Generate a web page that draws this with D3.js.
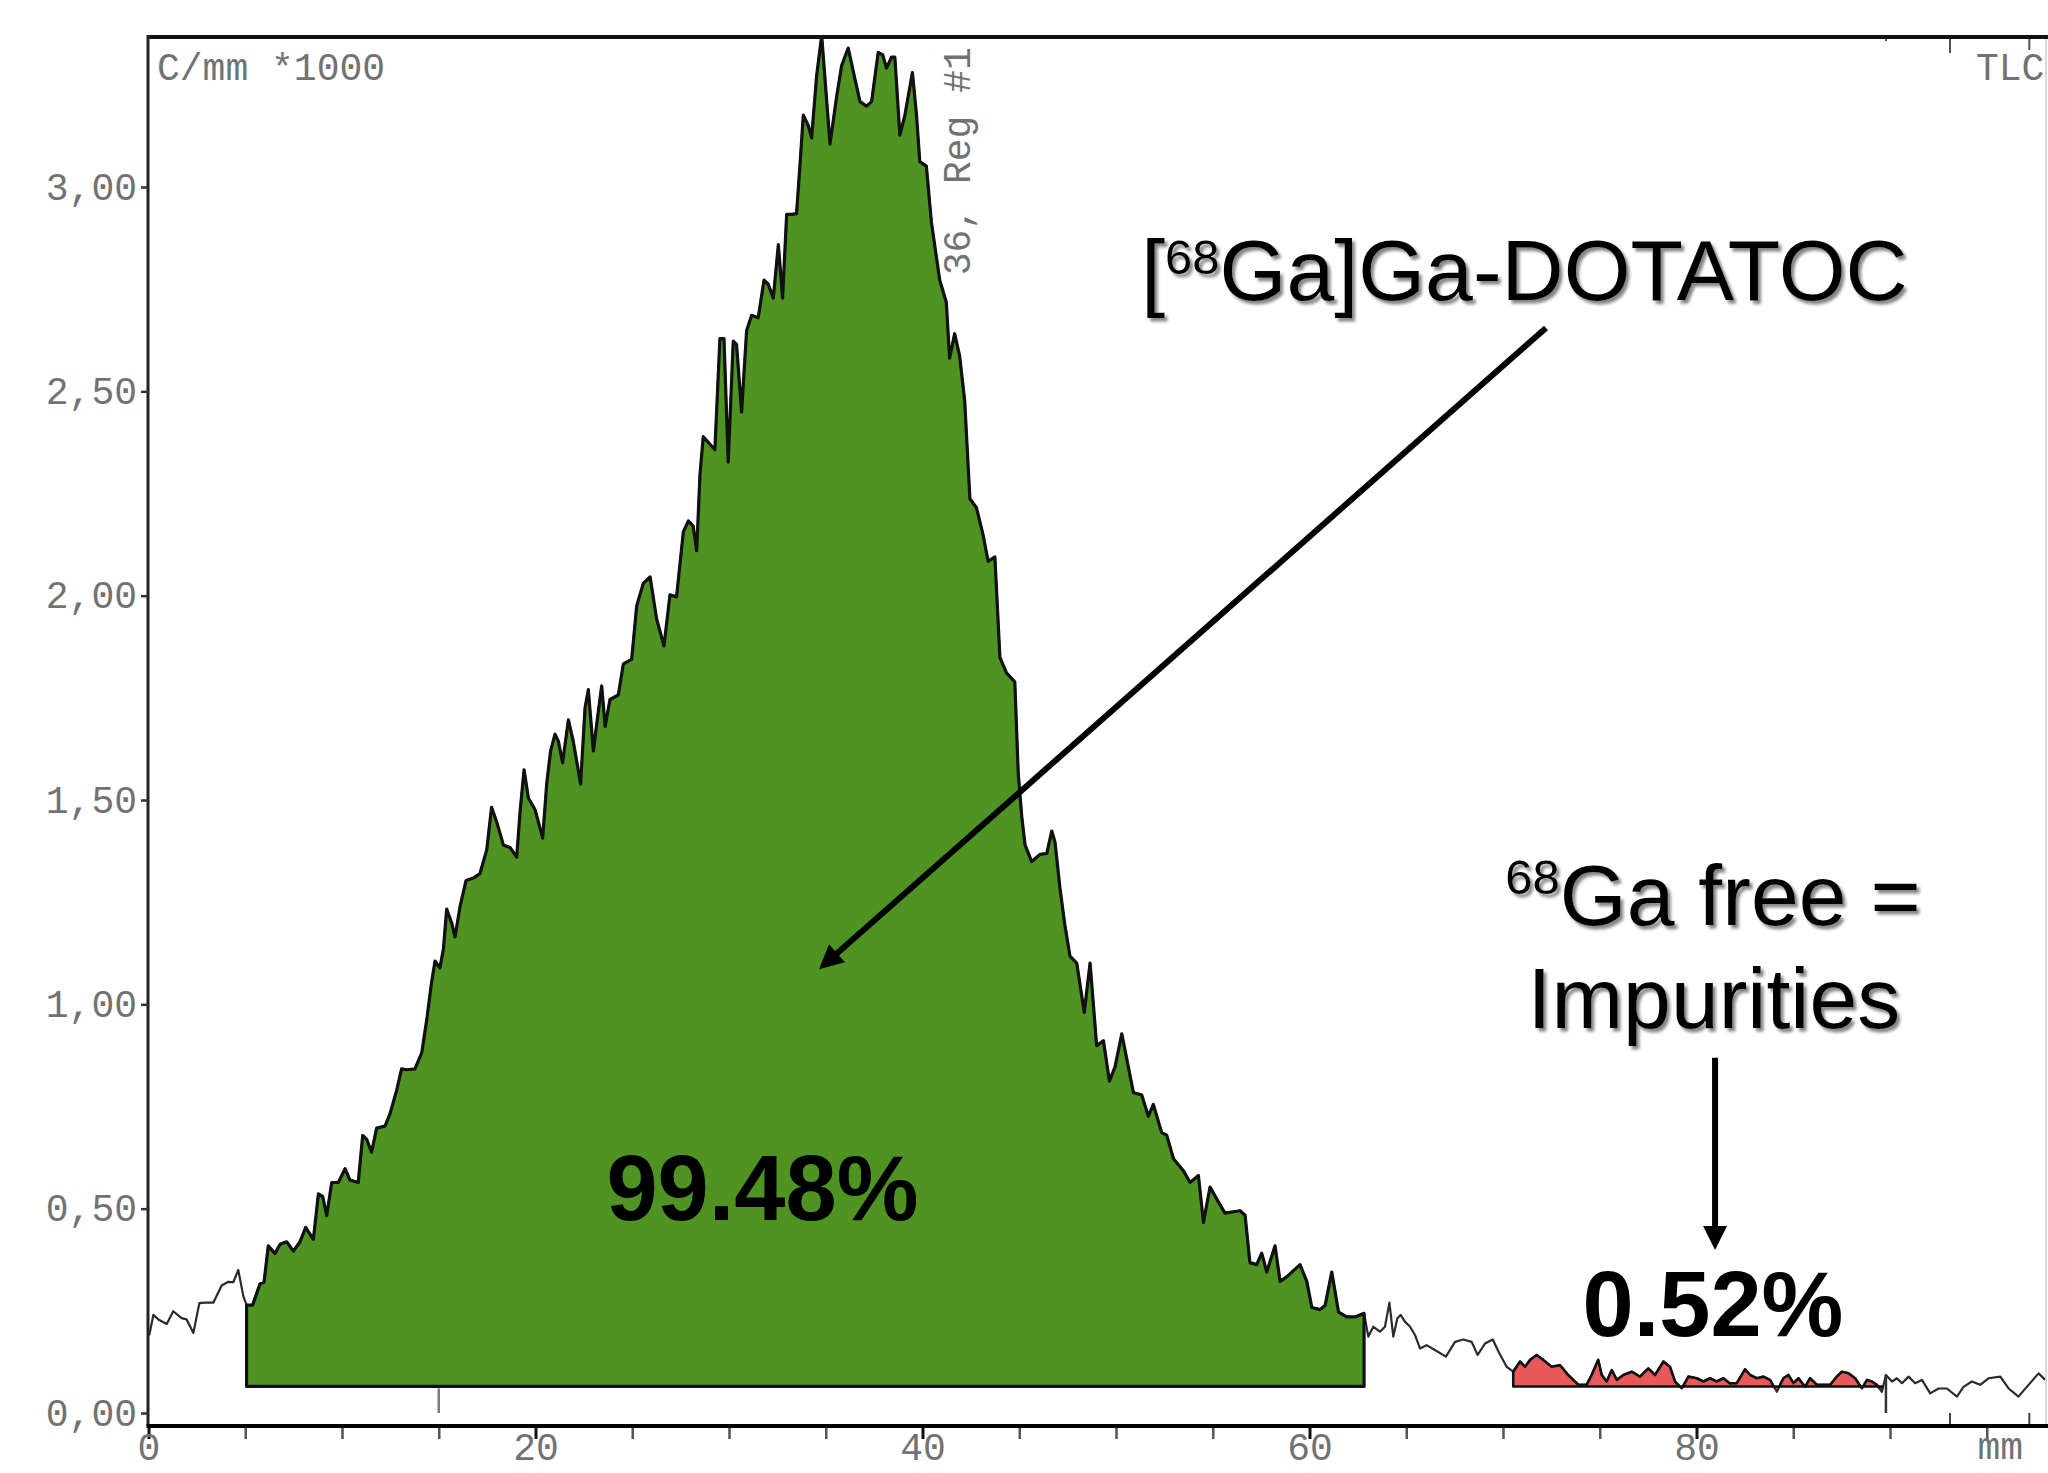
<!DOCTYPE html>
<html>
<head>
<meta charset="utf-8">
<script src="https://cdn.jsdelivr.net/npm/d3@7"></script>
<style>
  body { margin: 0; background: #fff; }
  svg { display: block; }
  .mono { font-family: "Liberation Mono", "DejaVu Sans Mono", monospace; font-size: 38px; fill: #727272; }
  .note { font-family: "Liberation Sans", Arial, sans-serif; fill: #000; }
</style>
</head>
<body>
<div id="chart"></div>
<script>
// TLC radio scan, position in mm, counts in C/mm *1000
const profileMm = [
  0.04,0.25,0.51,0.94,1.28,1.71,1.97,2.32,2.63,2.92,3.35,3.78,4.13,4.38,4.64,4.9,5.07,5.38,5.76,5.97,
  6.19,6.54,6.8,7.14,7.49,7.83,8.12,8.52,8.78,9.0,9.21,9.47,9.81,10.16,10.41,10.84,11.07,11.27,11.53,11.79,
  12.22,12.48,12.82,13.08,13.34,13.77,14.12,14.38,14.63,14.81,15.06,15.24,15.41,15.67,15.84,16.1,16.41,16.79,17.13,17.48,
  17.73,17.99,18.34,18.68,19.03,19.2,19.41,19.63,19.98,20.37,20.58,20.78,21.01,21.18,21.4,21.7,21.95,22.33,22.56,22.73,
  22.99,23.25,23.42,23.6,23.85,24.28,24.54,24.97,25.23,25.57,25.92,26.26,26.64,26.95,27.29,27.64,27.9,28.15,28.33,28.5,
  28.67,29.27,29.53,29.74,29.96,30.22,30.39,30.65,30.91,31.17,31.51,31.81,32.03,32.29,32.55,32.77,32.98,33.24,33.49,33.67,
  33.84,34.1,34.27,34.53,34.79,35.22,35.56,35.82,36.16,36.51,36.77,37.11,37.37,37.71,37.94,38.14,38.4,38.57,38.83,39.09,
  39.48,39.69,39.86,40.2,40.46,40.89,41.23,41.4,41.66,41.92,42.18,42.45,42.79,43.13,43.39,43.74,44.0,44.34,44.77,44.95,
  45.13,45.3,45.64,46.07,46.42,46.68,46.85,47.1,47.36,47.62,47.97,48.36,48.66,49.0,49.35,49.66,49.95,50.3,50.9,51.33,
  51.67,51.93,52.36,52.62,52.97,53.48,53.83,54.26,54.52,54.86,55.2,55.63,56.41,56.67,56.92,57.27,57.53,57.79,58.22,58.48,
  58.82,59.51,59.86,60.12,60.55,60.81,61.15,61.5,61.93,62.36,62.82,63.04,63.3,63.64,63.9,64.13,64.33,64.54,64.71,64.94,
  65.2,65.45,65.71,66.05,66.48,67.05,67.52,67.95,68.38,68.69,69.07,69.47,69.81,70.19,70.53,70.88,71.14,71.4,71.74,72.08,
  72.51,72.94,73.37,73.89,74.32,74.58,74.92,75.1,75.36,75.62,75.88,76.22,76.65,77.08,77.51,77.86,78.29,78.63,78.89,79.24,
  79.58,80.01,80.36,80.7,81.04,81.39,81.73,82.08,82.51,82.77,83.12,83.46,83.8,84.15,84.49,84.75,85.01,85.27,85.61,85.87,
  86.22,86.91,87.25,87.51,87.86,88.2,88.55,88.81,89.06,89.32,89.58,89.79,90.1,90.36,90.62,90.96,91.3,91.65,92.08,92.51,
  92.94,93.46,93.8,94.23,94.66,95.09,95.7,96.13,96.64,97.07,97.68,98.02
];
const profileCounts = [
  0.19,0.24,0.229,0.218,0.249,0.232,0.229,0.196,0.269,0.27,0.27,0.312,0.321,0.32,0.35,0.286,0.264,0.264,0.316,0.32,
  0.409,0.39,0.413,0.419,0.396,0.419,0.454,0.425,0.536,0.53,0.483,0.564,0.564,0.598,0.57,0.564,0.679,0.67,0.638,0.697,
  0.702,0.732,0.789,0.842,0.84,0.842,0.881,0.962,1.054,1.106,1.089,1.135,1.233,1.199,1.165,1.239,1.303,1.309,1.32,1.378,
  1.482,1.447,1.39,1.384,1.36,1.47,1.574,1.505,1.476,1.407,1.54,1.62,1.661,1.644,1.591,1.696,1.644,1.539,1.725,1.77,
  1.62,1.718,1.779,1.68,1.746,1.757,1.833,1.844,1.975,2.03,2.046,1.943,1.877,2.002,1.997,2.156,2.183,2.17,2.11,2.296,
  2.389,2.357,2.629,2.629,2.327,2.623,2.615,2.449,2.648,2.686,2.68,2.772,2.762,2.728,2.859,2.728,2.933,2.933,2.935,3.055,
  3.176,3.15,3.12,3.273,3.37,3.105,3.22,3.297,3.34,3.264,3.209,3.198,3.209,3.329,3.324,3.291,3.318,3.318,3.127,3.176,
  3.28,3.176,3.062,3.051,2.914,2.772,2.718,2.581,2.641,2.586,2.477,2.237,2.215,2.149,2.084,2.095,1.849,1.811,1.789,1.563,
  1.459,1.39,1.349,1.367,1.369,1.424,1.396,1.286,1.193,1.118,1.101,0.98,1.101,0.899,0.911,0.812,0.847,0.928,0.784,0.778,
  0.726,0.755,0.686,0.68,0.622,0.593,0.564,0.581,0.466,0.553,0.524,0.489,0.495,0.484,0.368,0.363,0.391,0.345,0.409,0.322,
  0.333,0.363,0.322,0.258,0.253,0.264,0.345,0.247,0.235,0.235,0.244,0.187,0.211,0.199,0.211,0.27,0.187,0.232,0.24,0.223,
  0.211,0.191,0.158,0.166,0.154,0.138,0.174,0.18,0.174,0.142,0.17,0.18,0.146,0.113,0.101,0.126,0.113,0.13,0.142,0.13,
  0.113,0.117,0.093,0.069,0.069,0.093,0.13,0.093,0.077,0.105,0.081,0.093,0.101,0.089,0.109,0.093,0.126,0.113,0.077,0.06,
  0.089,0.085,0.077,0.085,0.077,0.085,0.072,0.073,0.107,0.093,0.085,0.089,0.081,0.052,0.085,0.093,0.073,0.085,0.064,0.085,
  0.069,0.069,0.089,0.101,0.097,0.085,0.06,0.081,0.077,0.069,0.052,0.093,0.077,0.085,0.073,0.089,0.073,0.081,0.048,0.06,
  0.06,0.04,0.064,0.077,0.069,0.085,0.089,0.06,0.04,0.064,0.097,0.081
];

const yTicks = [0, 0.5, 1, 1.5, 2, 2.5, 3];
const xTicks = [0, 5, 10, 15, 20, 25, 30, 35, 40, 45, 50, 55, 60, 65, 70, 75, 80, 85, 90, 95];
const xLabels = [0, 20, 40, 60, 80];

// integration regions
const regionNames = ['[68Ga]Ga-DOTATOC', '68Ga free'];
const regionFrom = [5.0, 70.5];
const regionTo = [62.9, 89.6];
const regionColors = ['#4f9422', '#e85959'];
const regionBase = 0.065;

// software markers (mm)
const baseMarks = [15];
const edgeMarks = [89.79];
const sideMarks = [93.1, 97.2];

const width = 2048, height = 1473;
const frame = { left: 148, top: 37, right: 2046, bottom: 1426 };

const x = d3.scaleLinear().domain([0, 100]).range([148.5, 2083.5]);
const y = d3.scaleLinear().domain([0, 3]).range([1413, 187]);

const profile = profileMm.map((m, i) => ({ mm: m, c: profileCounts[i] }));

const svg = d3.select('#chart').append('svg')
    .attr('width', width)
    .attr('height', height);

const defs = svg.append('defs');

defs.append('clipPath').attr('id', 'plot-clip')
  .append('rect')
    .attr('x', frame.left).attr('y', frame.top)
    .attr('width', frame.right - frame.left).attr('height', frame.bottom - frame.top);

defs.append('clipPath').attr('id', 'region-clip')
  .append('rect')
    .attr('x', frame.left).attr('y', frame.top)
    .attr('width', frame.right - frame.left).attr('height', y(regionBase) + 2 - frame.top);

defs.append('filter').attr('id', 'shadow')
    .attr('x', '-5%').attr('y', '-10%').attr('width', '115%').attr('height', '130%')
  .append('feDropShadow')
    .attr('dx', 3).attr('dy', 3.5).attr('stdDeviation', 1.4)
    .attr('flood-color', '#6f6f6f').attr('flood-opacity', 0.85);

const plot = svg.append('g').attr('clip-path', 'url(#plot-clip)');

// whole scan line
const line = d3.line().x(d => x(d.mm)).y(d => y(d.c));

plot.append('path')
    .datum(profile)
    .attr('fill', 'none')
    .attr('stroke', '#2b2b2b')
    .attr('stroke-width', 2.2)
    .attr('stroke-linejoin', 'round')
    .attr('d', line);

// region areas
const area = d3.area()
    .x(d => x(d.mm))
    .y0(y(regionBase))
    .y1(d => y(d.c));

const regionGroup = plot.append('g').attr('clip-path', 'url(#region-clip)');

regionGroup.selectAll('path')
  .data(regionNames)
  .join('path')
    .attr('fill', (d, i) => regionColors[i])
    .attr('stroke', '#111')
    .attr('stroke-width', (d, i) => i === 0 ? 3.2 : 2.6)
    .attr('stroke-linejoin', 'round')
    .attr('d', (d, i) => area(profile.filter(p => p.mm >= regionFrom[i] && p.mm <= regionTo[i])) + 'Z');

// marker lines from software
plot.selectAll('.base-mark')
  .data(baseMarks)
  .join('line')
    .attr('class', 'base-mark')
    .attr('x1', d => x(d)).attr('x2', d => x(d))
    .attr('y1', y(regionBase) + 2).attr('y2', y(0))
    .attr('stroke', '#7d7d7d').attr('stroke-width', 2.5);

plot.selectAll('.edge-mark')
  .data(edgeMarks)
  .join('line')
    .attr('class', 'edge-mark')
    .attr('x1', d => x(d)).attr('x2', d => x(d))
    .attr('y1', d => y(profileCounts[profileMm.indexOf(d)])).attr('y2', y(0))
    .attr('stroke', '#333').attr('stroke-width', 2.5);

plot.selectAll('.side-mark')
  .data(sideMarks)
  .join('line')
    .attr('class', 'side-mark')
    .attr('x1', d => x(d)).attr('x2', d => x(d))
    .attr('y1', y(0)).attr('y2', frame.bottom - 2)
    .attr('stroke', '#444').attr('stroke-width', 2);

const topMarks = edgeMarks.concat(sideMarks);
const topMarkLen = [4, 16, 13];
svg.selectAll('.top-mark')
  .data(topMarks)
  .join('line')
    .attr('class', 'top-mark')
    .attr('x1', d => x(d)).attr('x2', d => x(d))
    .attr('y1', frame.top).attr('y2', (d, i) => frame.top + topMarkLen[i])
    .attr('stroke', '#555').attr('stroke-width', 2);

// frame
svg.append('line')
    .attr('x1', frame.right).attr('x2', frame.right)
    .attr('y1', frame.top).attr('y2', frame.bottom)
    .attr('stroke', '#cfcfcf').attr('stroke-width', 1.5);
svg.append('line')
    .attr('x1', frame.left).attr('x2', width)
    .attr('y1', frame.top).attr('y2', frame.top)
    .attr('stroke', '#111').attr('stroke-width', 4);
svg.append('line')
    .attr('x1', frame.left).attr('x2', frame.left)
    .attr('y1', frame.top - 2).attr('y2', frame.bottom)
    .attr('stroke', '#222').attr('stroke-width', 3);
svg.append('line')
    .attr('x1', frame.left - 1.5).attr('x2', width)
    .attr('y1', frame.bottom).attr('y2', frame.bottom)
    .attr('stroke', '#000').attr('stroke-width', 4);

// y axis
const yAxis = d3.axisLeft(y)
    .tickValues(yTicks)
    .tickSize(7)
    .tickPadding(4)
    .tickFormat(d => d3.format('.2f')(d).replace('.', ','));

const yAxisG = svg.append('g')
    .attr('transform', `translate(${frame.left},0)`)
    .call(yAxis)
    .call(g => g.select('.domain').remove());
yAxisG.attr('font-size', null).attr('font-family', null);
yAxisG.selectAll('line').attr('stroke', '#333').attr('stroke-width', 2.5);
yAxisG.selectAll('text').attr('class', 'mono').attr('fill', null);

// x axis
const xAxis = d3.axisBottom(x)
    .tickValues(xTicks)
    .tickSize(13)
    .tickPadding(0)
    .tickFormat(d => xLabels.includes(d) ? d : '');

const xAxisG = svg.append('g')
    .attr('transform', `translate(0,${frame.bottom})`)
    .call(xAxis)
    .call(g => g.select('.domain').remove());
xAxisG.attr('font-size', null).attr('font-family', null);
xAxisG.selectAll('line')
    .attr('y1', 2)
    .attr('stroke', d => d % 20 === 0 ? '#111' : '#555')
    .attr('stroke-width', d => d % 20 === 0 ? 3 : 2.5);
xAxisG.selectAll('text')
    .attr('class', 'mono')
    .attr('fill', null)
    .attr('font-size', 36)
    .attr('dy', '0.56em');

xAxisG.append('text')
    .attr('class', 'mono')
    .attr('font-size', 36)
    .attr('x', x(95.7))
    .attr('y', 33)
    .text('mm');

// software captions
svg.append('text')
    .attr('class', 'mono')
    .attr('x', frame.left + 9)
    .attr('y', 80)
    .text('C/mm *1000');

svg.append('text')
    .attr('class', 'mono')
    .attr('x', 1976)
    .attr('y', 80)
    .text('TLC');

svg.append('text')
    .attr('class', 'mono')
    .attr('transform', `translate(${x(42.45)},${y(2.784)}) rotate(-90)`)
    .text('36, Reg #1');

// annotations
const noteSize = 86, supSize = 49;

const title = svg.append('text')
    .attr('class', 'note')
    .attr('filter', 'url(#shadow)')
    .attr('font-size', noteSize)
    .attr('x', x(51.3))
    .attr('y', y(2.723));
title.append('tspan').text('[');
title.append('tspan').attr('font-size', supSize).attr('dy', -26).text('68');
title.append('tspan').attr('dy', 26).text('Ga]Ga-DOTATOC');

const freeNote = svg.append('text')
    .attr('class', 'note')
    .attr('filter', 'url(#shadow)')
    .attr('font-size', noteSize)
    .attr('text-anchor', 'middle')
    .attr('x', x(80.85))
    .attr('y', y(1.194));
freeNote.append('tspan').attr('font-size', supSize).attr('dy', -31).text('68');
freeNote.append('tspan').attr('dy', 31).text('Ga free =');

svg.append('text')
    .attr('class', 'note')
    .attr('filter', 'url(#shadow)')
    .attr('font-size', noteSize)
    .attr('text-anchor', 'middle')
    .attr('x', x(80.9))
    .attr('y', y(0.942))
    .text('Impurities');

const percentLabels = ['99.48%', '0.52%'];
const percentMm = [31.73, 80.85];
const percentAt = [0.472, 0.188];

svg.selectAll('.pct')
  .data(percentLabels)
  .join('text')
    .attr('class', 'note pct')
    .attr('font-size', 92)
    .attr('font-weight', 'bold')
    .attr('text-anchor', 'middle')
    .attr('x', (d, i) => x(percentMm[i]))
    .attr('y', (d, i) => y(percentAt[i]))
    .text(d => d);

// arrows
const arrowFrom = [[72.22, 2.655], [80.96, 0.869]];
const arrowTo = [[34.65, 1.086], [80.96, 0.399]];

const drawArrow = (x1, y1, x2, y2) => {
    const ang = Math.atan2(y2 - y1, x2 - x1);
    const headLen = 24, headHalf = 12;
    const bx = x2 - headLen * Math.cos(ang), by = y2 - headLen * Math.sin(ang);
    svg.append('line')
        .attr('x1', x1).attr('y1', y1)
        .attr('x2', bx + 4 * Math.cos(ang)).attr('y2', by + 4 * Math.sin(ang))
        .attr('stroke', '#000').attr('stroke-width', 6);
    svg.append('path')
        .attr('fill', '#000')
        .attr('d', `M${x2},${y2}L${bx + headHalf * Math.sin(ang)},${by - headHalf * Math.cos(ang)}L${bx - headHalf * Math.sin(ang)},${by + headHalf * Math.cos(ang)}Z`);
};

arrowFrom.forEach((f, i) => {
    drawArrow(x(f[0]), y(f[1]), x(arrowTo[i][0]), y(arrowTo[i][1]));
});
</script>
</body>
</html>
